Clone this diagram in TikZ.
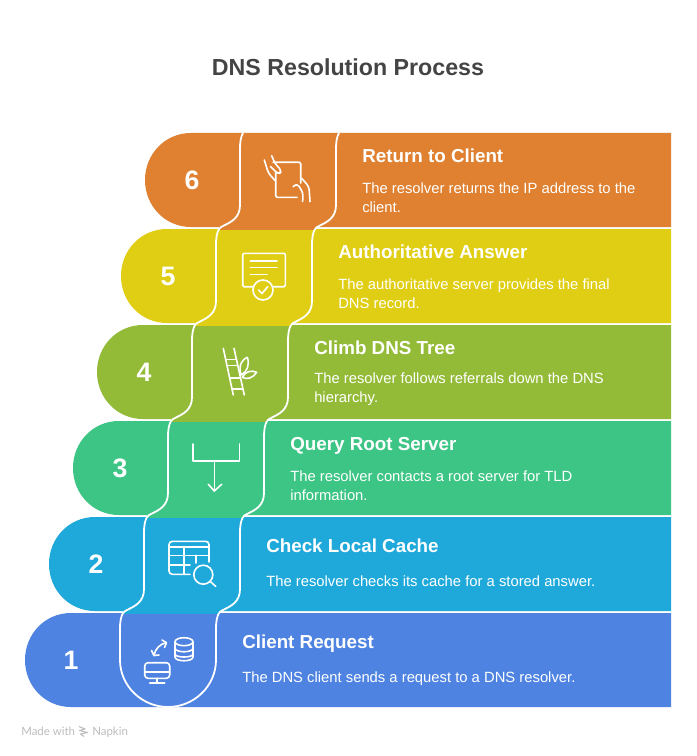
\documentclass[tikz,border=0pt]{standalone}
\usepackage{fontspec}
\setmainfont{Liberation Sans}
\newfontfamily\footfont{Lato}
\definecolor{cone}{HTML}{4E83E1}
\definecolor{ctwo}{HTML}{1FA9DA}
\definecolor{cthree}{HTML}{3DC585}
\definecolor{cfour}{HTML}{94BB38}
\definecolor{cfive}{HTML}{E0CE14}
\definecolor{csix}{HTML}{DF8131}
\definecolor{titlegray}{HTML}{444444}
\definecolor{footgray}{HTML}{BDBDBD}
\tikzset{
  numtext/.style={text=white,font=\bfseries\fontsize{20}{20}\selectfont,inner sep=0pt},
  headtext/.style={text=white,font=\bfseries\fontsize{14.1}{16}\selectfont,inner sep=0pt,anchor=base west},
  desctext/.style={text=white,font=\fontsize{11.1}{14.25}\selectfont,inner sep=0pt,anchor=west,align=left},
  descone/.style={text=white,font=\fontsize{11.1}{14.25}\selectfont,inner sep=0pt,anchor=base west},
  seam/.style={draw=white,line width=1.35pt},
  iconline/.style={draw=white,line width=1.2pt,line cap=round,line join=round},
}
\begin{document}
\begin{tikzpicture}[x=0.75pt,y=-0.75pt]
\useasboundingbox (0,0) rectangle (696,756);
\fill[white] (0,0) rectangle (696,756);
% bands: x-left, y-top, colour
\foreach \l/\y/\c/\s in {145/133/csix/240,121/229/cfive/216,97/325/cfour/192,73/421/cthree/168,49/517/ctwo/144,25/613/cone/120}{
  \fill[\c] (671,\y) -- (\l+46,\y) .. controls (\l+20,\y) and (\l,\y+21) .. (\l,\y+47)
    .. controls (\l,\y+73) and (\l+20,\y+94) .. (\l+46,\y+94) -- (671,\y+94) -- cycle;
}
% middle pieces cross the gaps
\foreach \s/\y/\c in {240/133/csix,216/229/cfive,192/325/cfour,168/421/cthree,144/517/ctwo}{
  \fill[\c] (\s-21,\y+93.5) rectangle (\s+75,\y+96.5);
}
% seams
\foreach \s/\y in {240/133,216/229,192/325,168/421,144/517}{
  \foreach \d in {0,96}{
    \draw[seam] (\s+\d+3,\y) .. controls (\s+\d+0.7,\y+4) and (\s+\d,\y+9) .. (\s+\d,\y+17)
      -- (\s+\d,\y+72) .. controls (\s+\d,\y+85) and (\s+\d-9,\y+89) .. (\s+\d-16,\y+92.5)
      .. controls (\s+\d-18,\y+93.5) and (\s+\d-20,\y+94.5) .. (\s+\d-21,\y+96);
  }
}
\draw[seam] (123,613) .. controls (120.7,617) and (120,622) .. (120,630) -- (120,660)
  .. controls (120,686) and (142,707) .. (168,707) .. controls (194,707) and (216,686) .. (216,660)
  -- (216,630) .. controls (216,622) and (216.7,617) .. (219,613);
% title
\node[inner sep=0pt,text=titlegray,font=\bfseries\fontsize{17.4}{20}\selectfont] (title) at (348,67) {DNS Resolution Process};
% numbers
\node[numtext] (n6) at (192,180) {6};
\node[numtext] (n5) at (168,276) {5};
\node[numtext] (n4) at (144,372) {4};
\node[numtext] (n3) at (120,468) {3};
\node[numtext] (n2) at (96,564) {2};
\node[numtext] (n1) at (71,660) {1};
% headings
\node[headtext] (h6) at (362,162) {Return to Client};
\node[headtext] (h5) at (338,258) {Authoritative Answer};
\node[headtext] (h4) at (314,354) {Climb DNS Tree};
\node[headtext] (h3) at (290,450) {Query Root Server};
\node[headtext] (h2) at (266,552) {Check Local Cache};
\node[headtext] (h1) at (242,648) {Client Request};
% descriptions
\node[desctext] (d6) at (362,197.5) {The resolver returns the IP address to the\\client.};
\node[desctext] (d5) at (338,293.5) {The authoritative server provides the final\\DNS record.};
\node[desctext] (d4) at (314,389.5) {The resolver follows referrals down the DNS\\hierarchy.};
\node[desctext] (d3) at (290,485.5) {The resolver contacts a root server for TLD\\information.};
\node[descone] (d2) at (266,586) {The resolver checks its cache for a stored answer.};
\node[descone] (d1) at (242,682) {The DNS client sends a request to a DNS resolver.};
% icon 6
\draw[iconline,rounded corners=1pt] (275.7,172) -- (275.7,197.3) -- (297,197.3);
\draw[iconline,rounded corners=1pt] (273,162.3) -- (300.7,162.3) -- (300.7,183);
\draw[iconline,rounded corners=2.5pt] (264.3,160) -- (268.3,173) -- (275,180.5);
\draw[iconline,rounded corners=2.5pt] (271.7,155.7) -- (275,163.5) -- (281.7,170.7) -- (279,174.5) -- (275,171) -- (270.5,166.5);
\draw[iconline,rounded corners=2.5pt] (301.7,178.3) -- (309,186.7) -- (310,201.7);
\draw[iconline,rounded corners=2.5pt] (293.3,186.7) -- (296.7,183.3) -- (301.7,190) -- (303.3,196) -- (302.5,201.5);
% icon 5
\draw[iconline,rounded corners=1pt] (252.5,286.7) -- (242.7,286.7) -- (242.7,253.3) -- (285.3,253.3) -- (285.3,286.7) -- (273.5,286.7);
\draw[iconline] (250.3,260.7) -- (277,260.7) (250.3,267.3) -- (277,267.3) (250.3,274.3) -- (267,274.3);
\draw[iconline] (263,290) circle (10);
\draw[iconline] (258.6,290) -- (261.9,293.6) -- (267.7,286.7);
% icon 4
\draw[iconline] (223.3,348.3) -- (233.3,395) (234,348.3) -- (244.3,395);
\draw[iconline] (225.8,359.5) -- (236.4,359.5) (227.1,365.5) -- (237.7,365.5) (229.7,378) -- (240.4,378) (232,389) -- (243,389);
\draw[iconline] (241,375) .. controls (238,364) and (243,359) .. (247.3,357.3) .. controls (250,365) and (247,372) .. (241,375);
\draw[iconline] (242.3,377.3) .. controls (246,371) and (251,370) .. (256.7,372.3) .. controls (253,378) and (247,380) .. (242.3,377.3);
% icon 3
\draw[iconline] (192.7,444) -- (192.7,461) -- (239.3,461) -- (239.3,444);
\draw[iconline] (214.3,461) -- (214.3,491);
\draw[iconline] (208.3,484.3) -- (214.3,491) -- (221.7,484.3);
% icon 2
\draw[iconline,rounded corners=2.5pt] (190,574.3) -- (169,574.3) -- (169,541.3) -- (209,541.3) -- (209,562);
\draw[iconline] (169,547) -- (209,547) (169,555.3) -- (209,555.3) (169,564.7) -- (190,564.7);
\draw[iconline] (184,547) -- (184,574.3) (195.7,555.3) -- (195.7,563);
\draw[iconline] (203.3,574.7) circle (9.5);
\draw[iconline] (210,581.3) -- (215.7,586.3);
% icon 1
\draw[iconline,rounded corners=2.5pt] (144.7,662.7) rectangle (169.7,678.3);
\draw[iconline] (144.7,671.7) -- (169.7,671.7);
\draw[iconline] (157,678.3) -- (157,682.7) (149.7,682.7) -- (164.7,682.7);
\draw[iconline] (184,641.7) ellipse (9 and 4);
\draw[iconline] (175,641.7) -- (175,657) .. controls (175,662) and (193,662) .. (193,657) -- (193,641.7);
\draw[iconline] (175,648) .. controls (175,653) and (193,653) .. (193,648);
\draw[iconline] (175,654) .. controls (175,658) and (193,658) .. (193,654);
\draw[iconline] (154,655.5) .. controls (155,649) and (160,644) .. (166,642.7);
\draw[iconline] (151.5,650.5) -- (154,655.5) -- (159,655);
\draw[iconline] (162,640) -- (166.5,642.7) -- (164.5,647.5);
% footer
\node[inner sep=0pt,anchor=base west,text=footgray,font=\footfont\fontsize{8.6}{10}\selectfont] (made) at (21,735) {Made with};
\node[inner sep=0pt,anchor=base west,text=footgray,font=\footfont\fontsize{8.6}{10}\selectfont] (napkin) at (92,735) {Napkin};
\draw[draw=footgray,line width=0.8pt,line join=round] (79,726.5) -- (85,729) -- (79.5,730.5) -- (87.5,732.5) -- (80.5,734) -- (84,736.5);
\end{tikzpicture}
\end{document}
